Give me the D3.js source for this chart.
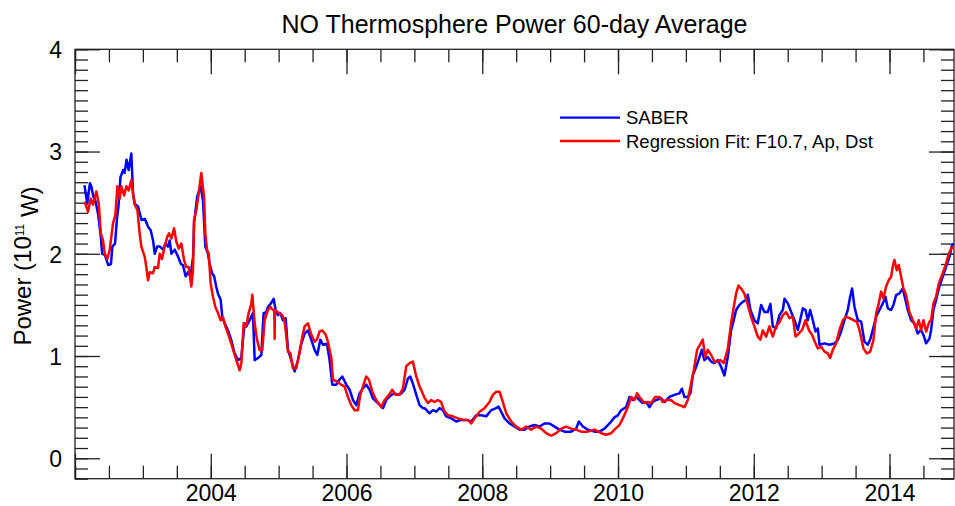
<!DOCTYPE html>
<html>
<head>
<meta charset="utf-8">
<script src="https://cdn.jsdelivr.net/npm/d3@7"></script>
<style>
  body { margin: 0; background: #fff; }
  svg { display: block; font-family: "Liberation Sans", Arial, Helvetica, sans-serif; }
  .axis .domain { display: none; }
  .axis line { stroke: #222; stroke-width: 1.3px; }
  .axis text { fill: #000; font-size: 23px; }
</style>
</head>
<body>
<svg id="chart" width="955" height="506"></svg>
<script>
// SABER 60-day average [year, power (1e11 W)]
var saberSeries = [
  [2002.14,2.67],[2002.18,2.49],[2002.22,2.69],[2002.24,2.66],[2002.27,2.56],[2002.30,2.52],
  [2002.34,2.39],[2002.38,2.17],[2002.40,2.00],[2002.44,1.99],[2002.49,1.89],[2002.53,1.90],
  [2002.55,2.07],[2002.59,2.10],[2002.62,2.36],[2002.64,2.46],[2002.67,2.75],[2002.71,2.82],
  [2002.73,2.79],[2002.76,2.92],[2002.79,2.82],[2002.83,2.98],[2002.855,2.59],[2002.88,2.49],
  [2002.93,2.46],[2002.98,2.33],[2003.03,2.34],[2003.08,2.26],[2003.115,2.23],[2003.15,2.13],
  [2003.175,2.00],[2003.21,2.07],[2003.25,2.07],[2003.30,2.04],[2003.33,2.10],[2003.37,2.07],
  [2003.395,2.13],[2003.42,2.00],[2003.47,2.04],[2003.52,1.97],[2003.56,1.90],[2003.59,1.89],
  [2003.63,1.78],[2003.665,1.82],[2003.70,1.78],[2003.74,1.97],[2003.755,2.30],[2003.80,2.56],
  [2003.85,2.66],[2003.886,2.52],[2003.92,2.07],[2003.96,2.00],[2003.984,1.90],[2004.02,1.81],
  [2004.05,1.78],[2004.08,1.68],[2004.107,1.61],[2004.146,1.55],[2004.17,1.38],[2004.205,1.32],
  [2004.254,1.25],[2004.30,1.16],[2004.35,1.03],[2004.40,0.96],[2004.45,0.98],[2004.475,1.16],
  [2004.50,1.32],[2004.524,1.29],[2004.573,1.35],[2004.622,1.42],[2004.647,0.96],[2004.696,0.98],
  [2004.745,1.01],[2004.779,1.42],[2004.818,1.43],[2004.843,1.48],[2004.892,1.52],[2004.926,1.56],
  [2004.956,1.45],[2004.99,1.40],[2005.025,1.42],[2005.064,1.35],[2005.103,1.37],[2005.138,1.06],
  [2005.187,0.96],[2005.236,0.85],[2005.285,0.96],[2005.334,1.12],[2005.383,1.22],[2005.432,1.25],
  [2005.481,1.16],[2005.53,1.06],[2005.57,1.01],[2005.614,1.16],[2005.653,1.11],[2005.712,1.12],
  [2005.751,0.96],[2005.79,0.72],[2005.85,0.72],[2005.898,0.77],[2005.938,0.80],[2005.997,0.72],
  [2006.046,0.67],[2006.095,0.57],[2006.144,0.52],[2006.193,0.635],[2006.242,0.684],[2006.291,0.72],
  [2006.34,0.67],[2006.389,0.586],[2006.463,0.54],[2006.537,0.49],[2006.586,0.57],[2006.66,0.62],
  [2006.709,0.635],[2006.758,0.62],[2006.807,0.635],[2006.856,0.67],[2006.905,0.78],[2006.94,0.80],
  [2006.978,0.73],[2007.028,0.62],[2007.077,0.52],[2007.126,0.49],[2007.15,0.49],[2007.224,0.44],
  [2007.273,0.47],[2007.322,0.455],[2007.371,0.49],[2007.42,0.47],[2007.469,0.41],[2007.543,0.39],
  [2007.616,0.36],[2007.69,0.375],[2007.764,0.375],[2007.837,0.36],[2007.911,0.42],[2007.985,0.42],
  [2008.058,0.41],[2008.132,0.47],[2008.205,0.49],[2008.24,0.505],[2008.279,0.455],[2008.328,0.39],
  [2008.402,0.34],[2008.475,0.31],[2008.549,0.28],[2008.623,0.28],[2008.696,0.31],[2008.77,0.325],
  [2008.844,0.31],[2008.917,0.34],[2008.991,0.34],[2009.065,0.31],[2009.138,0.28],[2009.212,0.26],
  [2009.31,0.26],[2009.384,0.29],[2009.423,0.36],[2009.482,0.31],[2009.555,0.28],[2009.654,0.26],
  [2009.727,0.26],[2009.801,0.29],[2009.875,0.34],[2009.948,0.40],[2009.997,0.42],[2010.046,0.47],
  [2010.12,0.50],[2010.169,0.60],[2010.218,0.57],[2010.267,0.60],[2010.316,0.57],[2010.365,0.54],
  [2010.414,0.55],[2010.463,0.50],[2010.513,0.55],[2010.562,0.57],[2010.635,0.586],[2010.684,0.55],
  [2010.758,0.60],[2010.832,0.62],[2010.905,0.635],[2010.94,0.68],[2010.979,0.60],[2011.028,0.60],
  [2011.067,0.635],[2011.102,0.81],[2011.151,0.895],[2011.2,0.99],[2011.234,1.06],[2011.273,0.96],
  [2011.323,0.99],[2011.372,0.945],[2011.421,0.93],[2011.47,0.96],[2011.519,0.895],[2011.568,0.81],
  [2011.617,0.99],[2011.666,1.25],[2011.705,1.35],[2011.74,1.45],[2011.789,1.50],[2011.838,1.53],
  [2011.887,1.55],[2011.912,1.60],[2011.951,1.45],[2012.01,1.35],[2012.059,1.32],[2012.108,1.50],
  [2012.157,1.43],[2012.206,1.43],[2012.245,1.51],[2012.28,1.29],[2012.329,1.27],[2012.378,1.40],
  [2012.428,1.45],[2012.453,1.56],[2012.502,1.515],[2012.551,1.43],[2012.6,1.35],[2012.649,1.255],
  [2012.683,1.35],[2012.723,1.466],[2012.762,1.45],[2012.796,1.35],[2012.831,1.45],[2012.87,1.35],
  [2012.909,1.24],[2012.944,1.27],[2012.968,1.11],[2013.042,1.124],[2013.115,1.11],[2013.189,1.124],
  [2013.238,1.156],[2013.287,1.24],[2013.336,1.35],[2013.385,1.45],[2013.42,1.58],[2013.449,1.66],
  [2013.484,1.48],[2013.533,1.35],[2013.582,1.336],[2013.631,1.14],[2013.68,1.11],[2013.719,1.17],
  [2013.754,1.255],[2013.803,1.385],[2013.852,1.45],[2013.901,1.515],[2013.94,1.58],[2013.975,1.466],
  [2014.024,1.45],[2014.058,1.50],[2014.097,1.596],[2014.146,1.613],[2014.195,1.66],[2014.235,1.548],
  [2014.269,1.45],[2014.318,1.35],[2014.367,1.32],[2014.416,1.22],[2014.465,1.255],[2014.5,1.206],
  [2014.539,1.124],[2014.588,1.17],[2014.613,1.255],[2014.647,1.45],[2014.686,1.548],[2014.735,1.68],
  [2014.784,1.776],[2014.834,1.874],[2014.883,1.97],[2014.922,2.085],[2014.942,2.10]
];

// Regression fit (F10.7, Ap, Dst) [year, power]
var fitSeries = [
  [2002.143,2.51],[2002.192,2.41],[2002.232,2.54],[2002.266,2.48],[2002.315,2.61],[2002.35,2.49],
  [2002.38,2.20],[2002.413,2.13],[2002.438,2.00],[2002.477,1.95],[2002.511,2.04],[2002.561,2.30],
  [2002.595,2.38],[2002.624,2.66],[2002.659,2.54],[2002.683,2.66],[2002.723,2.57],[2002.757,2.66],
  [2002.791,2.62],[2002.83,2.72],[2002.855,2.59],[2002.88,2.48],[2002.919,2.43],[2002.953,2.20],
  [2002.978,2.07],[2003.027,1.97],[2003.051,1.87],[2003.076,1.74],[2003.1,1.82],[2003.15,1.81],
  [2003.174,1.87],[2003.223,1.86],[2003.248,2.00],[2003.282,1.95],[2003.321,2.07],[2003.361,2.17],
  [2003.385,2.20],[2003.42,2.15],[2003.459,2.25],[2003.493,2.12],[2003.528,2.05],[2003.567,2.10],
  [2003.606,1.94],[2003.641,1.87],[2003.675,1.87],[2003.714,1.68],[2003.739,1.84],[2003.753,2.33],
  [2003.788,2.43],[2003.822,2.59],[2003.861,2.79],[2003.901,2.56],[2003.92,2.20],[2003.945,2.04],
  [2003.97,2.00],[2003.999,1.71],[2004.033,1.58],[2004.068,1.48],[2004.107,1.42],[2004.146,1.35],
  [2004.18,1.38],[2004.215,1.29],[2004.254,1.22],[2004.303,1.12],[2004.343,1.03],[2004.377,0.96],
  [2004.426,0.86],[2004.451,0.93],[2004.485,1.32],[2004.524,1.29],[2004.558,1.42],[2004.598,1.51],
  [2004.612,1.60],[2004.647,1.32],[2004.681,1.16],[2004.72,1.06],[2004.76,1.06],[2004.794,1.35],
  [2004.843,1.45],[2004.877,1.48],[2004.917,1.45],[2004.936,1.45],[2004.941,1.17],[2004.946,1.45],
  [2005.005,1.42],[2005.054,1.40],[2005.088,1.34],[2005.138,1.04],[2005.172,1.03],[2005.211,0.88],
  [2005.26,0.88],[2005.309,1.04],[2005.349,1.19],[2005.383,1.29],[2005.432,1.32],[2005.481,1.21],
  [2005.53,1.14],[2005.565,1.16],[2005.604,1.24],[2005.643,1.25],[2005.692,1.21],[2005.727,1.14],
  [2005.776,0.98],[2005.8,0.77],[2005.86,0.75],[2005.923,0.72],[2005.972,0.70],[2006.021,0.60],
  [2006.07,0.52],[2006.12,0.47],[2006.168,0.47],[2006.203,0.62],[2006.242,0.70],[2006.291,0.80],
  [2006.33,0.77],[2006.38,0.65],[2006.438,0.57],[2006.512,0.50],[2006.561,0.57],[2006.625,0.62],
  [2006.674,0.67],[2006.723,0.62],[2006.782,0.62],[2006.831,0.684],[2006.88,0.90],[2006.929,0.93],
  [2006.978,0.945],[2007.028,0.80],[2007.077,0.70],[2007.126,0.63],[2007.15,0.59],[2007.199,0.54],
  [2007.248,0.57],[2007.297,0.55],[2007.346,0.57],[2007.395,0.55],[2007.435,0.47],[2007.494,0.42],
  [2007.567,0.41],[2007.641,0.39],[2007.715,0.375],[2007.788,0.375],[2007.837,0.34],[2007.886,0.39],
  [2007.96,0.455],[2008.034,0.49],[2008.107,0.55],[2008.156,0.62],[2008.205,0.65],[2008.255,0.65],
  [2008.304,0.55],[2008.353,0.44],[2008.426,0.36],[2008.5,0.31],[2008.574,0.28],[2008.647,0.31],
  [2008.721,0.28],[2008.795,0.31],[2008.868,0.29],[2008.942,0.245],[2009.016,0.22],[2009.089,0.245],
  [2009.163,0.29],[2009.236,0.31],[2009.31,0.29],[2009.384,0.28],[2009.457,0.26],[2009.555,0.26],
  [2009.654,0.28],[2009.752,0.245],[2009.825,0.23],[2009.9,0.245],[2009.948,0.28],[2010.022,0.325],
  [2010.071,0.39],[2010.144,0.50],[2010.193,0.60],[2010.242,0.57],[2010.282,0.635],[2010.331,0.586],
  [2010.39,0.54],[2010.439,0.55],[2010.488,0.54],[2010.547,0.60],[2010.611,0.60],[2010.66,0.55],
  [2010.709,0.57],[2010.783,0.57],[2010.832,0.54],[2010.905,0.52],[2010.979,0.50],[2011.028,0.57],
  [2011.077,0.73],[2011.116,0.86],[2011.165,1.06],[2011.215,1.12],[2011.249,1.16],[2011.283,0.99],
  [2011.323,1.06],[2011.372,1.01],[2011.421,0.945],[2011.47,0.945],[2011.509,0.96],[2011.558,0.93],
  [2011.617,1.07],[2011.666,1.32],[2011.705,1.48],[2011.74,1.61],[2011.774,1.69],[2011.813,1.66],
  [2011.862,1.61],[2011.912,1.50],[2011.961,1.38],[2012.01,1.29],[2012.059,1.19],[2012.098,1.16],
  [2012.132,1.25],[2012.182,1.19],[2012.231,1.29],[2012.28,1.19],[2012.329,1.29],[2012.379,1.33],
  [2012.428,1.40],[2012.477,1.43],[2012.526,1.37],[2012.575,1.385],[2012.615,1.19],[2012.664,1.22],
  [2012.713,1.255],[2012.762,1.35],[2012.811,1.255],[2012.86,1.206],[2012.909,1.124],[2012.944,1.075],
  [2012.993,1.09],[2013.042,1.043],[2013.091,1.026],[2013.125,0.98],[2013.164,1.06],[2013.213,1.124],
  [2013.263,1.255],[2013.312,1.35],[2013.361,1.385],[2013.41,1.37],[2013.469,1.35],[2013.518,1.336],
  [2013.557,1.255],[2013.616,1.075],[2013.665,1.026],[2013.714,1.04],[2013.763,1.156],[2013.803,1.417],
  [2013.842,1.515],[2013.876,1.63],[2013.91,1.564],[2013.95,1.68],[2013.989,1.743],[2014.024,1.776],
  [2014.048,1.874],[2014.073,1.94],[2014.107,1.84],[2014.136,1.89],[2014.171,1.776],[2014.205,1.66],
  [2014.244,1.596],[2014.293,1.43],[2014.343,1.35],[2014.392,1.27],[2014.431,1.35],[2014.465,1.255],
  [2014.5,1.35],[2014.539,1.24],[2014.588,1.336],[2014.613,1.35],[2014.647,1.515],[2014.686,1.58],
  [2014.726,1.71],[2014.784,1.81],[2014.834,1.906],[2014.873,2.00],[2014.907,2.05],[2014.942,2.07]
];

var xLabelYears = [2004, 2006, 2008, 2010, 2012, 2014];
var xMajorYears = [2002, 2004, 2006, 2008, 2010, 2012, 2014];
var yMajorValues = [0, 1, 2, 3, 4];
var legendNames = ['SABER', 'Regression Fit: F10.7, Ap, Dst'];
var seriesColors = ['#0000ff', '#ff0000'];

var margin = {top: 49.3, right: 1, bottom: 27.3, left: 75},
    width = 955 - margin.left - margin.right,
    height = 506 - margin.top - margin.bottom;

var svg = d3.select('#chart');
var g = svg.append('g').attr('transform', 'translate(' + margin.left + ',' + margin.top + ')');

var x = d3.scaleLinear().domain([2002, 2014.95]).range([0, width]);
var y = d3.scaleLinear().domain([-0.2, 4]).range([height, 0]);

var xMinor = d3.range(2002, 2015, 0.5);
var yMinor = d3.range(-2, 41).map(function (d) { return d / 10; });

//------------------------------------------------------------
// axes: ticks point inward on all four sides

g.append('g').attr('class', 'axis')
    .call(d3.axisLeft(y).tickValues(yMinor).tickSize(-13).tickFormat(''));
g.append('g').attr('class', 'axis')
    .call(d3.axisLeft(y).tickValues(yMajorValues).tickSize(-25).tickPadding(13).tickFormat(d3.format('d')))
    .selectAll('text').attr('dy', '0.36em');

g.append('g').attr('class', 'axis').attr('transform', 'translate(' + width + ',0)')
    .call(d3.axisRight(y).tickValues(yMinor).tickSize(-13).tickFormat(''));
g.append('g').attr('class', 'axis').attr('transform', 'translate(' + width + ',0)')
    .call(d3.axisRight(y).tickValues(yMajorValues).tickSize(-25).tickFormat(''));

g.append('g').attr('class', 'axis').attr('transform', 'translate(0,' + height + ')')
    .call(d3.axisBottom(x).tickValues(xMinor).tickSize(-13).tickFormat(''));
g.append('g').attr('class', 'axis').attr('transform', 'translate(0,' + height + ')')
    .call(d3.axisBottom(x).tickValues(xMajorYears).tickSize(-25).tickPadding(6)
      .tickFormat(function (d) { return xLabelYears.indexOf(d) >= 0 ? d3.format('d')(d) : ''; }));

g.append('g').attr('class', 'axis')
    .call(d3.axisTop(x).tickValues(xMinor).tickSize(-13).tickFormat(''));
g.append('g').attr('class', 'axis')
    .call(d3.axisTop(x).tickValues(xMajorYears).tickSize(-25).tickFormat(''));

g.append('rect')
    .attr('width', width).attr('height', height)
    .attr('fill', 'none').attr('stroke', '#222').attr('stroke-width', 1.3);

//------------------------------------------------------------
// series

var line = d3.line()
    .x(function (d) { return x(d[0]); })
    .y(function (d) { return y(d[1]); });

[saberSeries, fitSeries].forEach(function (s, i) {
  g.append('path')
      .datum(s)
      .attr('fill', 'none')
      .attr('stroke', seriesColors[i])
      .attr('stroke-width', 2.5)
      .attr('stroke-linejoin', 'round')
      .attr('d', line);
});

//------------------------------------------------------------
// legend

var legend = svg.append('g').attr('transform', 'translate(560,117.7)');
var item = legend.selectAll('g').data(legendNames).enter().append('g')
    .attr('transform', function (d, i) { return 'translate(0,' + (i * 23.3) + ')'; });
item.append('line')
    .attr('x1', 0).attr('x2', 60)
    .attr('stroke', function (d, i) { return seriesColors[i]; })
    .attr('stroke-width', 2.3);
item.append('text')
    .attr('x', 66).attr('y', 6.6)
    .style('font-size', '18.5px')
    .text(function (d) { return d; });

//------------------------------------------------------------
// titles

svg.append('text')
    .attr('x', margin.left + width / 2).attr('y', 33)
    .attr('text-anchor', 'middle')
    .style('font-size', '25px')
    .text('NO Thermosphere Power 60-day Average');

var yl = svg.append('text')
    .attr('transform', 'translate(31,266) rotate(-90)')
    .attr('text-anchor', 'middle')
    .style('font-size', '24px');
yl.append('tspan').text('Power (10');
yl.append('tspan').attr('dy', '-0.55em').style('font-size', '12px').text('11');
yl.append('tspan').attr('dy', '0.55em').text(' W)');
</script>
</body>
</html>
